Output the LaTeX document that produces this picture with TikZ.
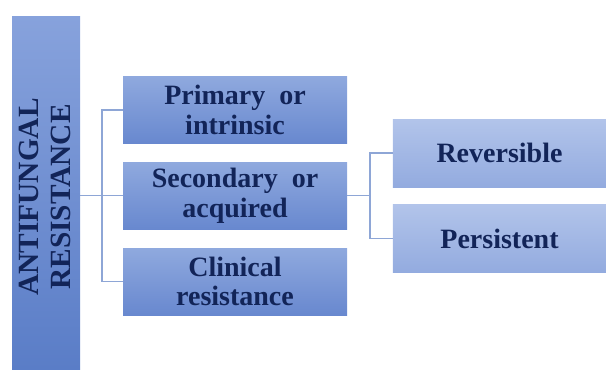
\documentclass[tikz,border=0pt]{standalone}
\usepackage{fontspec}
\setmainfont{Liberation Serif}
\usetikzlibrary{positioning}
\definecolor{navy}{HTML}{122458}
\definecolor{linkblue}{HTML}{8EA6D6}
\definecolor{bartop}{HTML}{87A2DC}
\definecolor{barbot}{HTML}{5A7DC7}
\definecolor{midtop}{HTML}{8FA9DE}
\definecolor{midbot}{HTML}{6888CF}
\definecolor{rtop}{HTML}{B2C4EA}
\definecolor{rbot}{HTML}{93ABDF}

\begin{document}
\begin{tikzpicture}[x=0.75pt, y=-0.75pt,
    box/.style={top color=midtop, bottom color=midbot, draw=none, text=navy, align=center,
      font=\fontsize{21}{22}\selectfont\bfseries, minimum width=168pt, minimum height=50pt, inner sep=0pt},
    rbox/.style={box, top color=rtop, bottom color=rbot, minimum width=160pt, minimum height=51pt},
    conn/.style={draw=linkblue, line width=0.8pt}]
        \useasboundingbox (0,0) rectangle (606,369);
        \node[top color=bartop, bottom color=barbot, minimum width=51pt, minimum height=264.75pt, inner sep=0pt] (res) at (46,192.5) {};
        \node[rotate=90, text=navy, align=center, font=\fontsize{22}{24}\selectfont\bfseries] (restext) at (45,197) {ANTIFUNGAL\\RESISTANCE};
        \node[box] (prim) at (235,110) {Primary\ \ or\\intrinsic};
        \node[box, below=14pt of prim] (sec) {Secondary\ \ or\\acquired};
        \node[box, below=14pt of sec] (clin) {Clinical\\resistance};
        \node[rbox] (rev) at (499.5,153) {Reversible};
        \node[rbox, below=12.75pt of rev] (pers) {Persistent};
        \coordinate (jl) at (102,0);
        \coordinate (jr) at (370,0);
        \draw[conn] (res.east |- sec.west) -- (sec.west);
        \draw[conn] (prim.west) -- (prim.west -| jl) |- (clin.west);
        \draw[conn] (sec.east) -- (sec.east -| jr);
        \draw[conn] (rev.west) -- (rev.west -| jr) |- (pers.west);
      \end{tikzpicture}
\end{document}
